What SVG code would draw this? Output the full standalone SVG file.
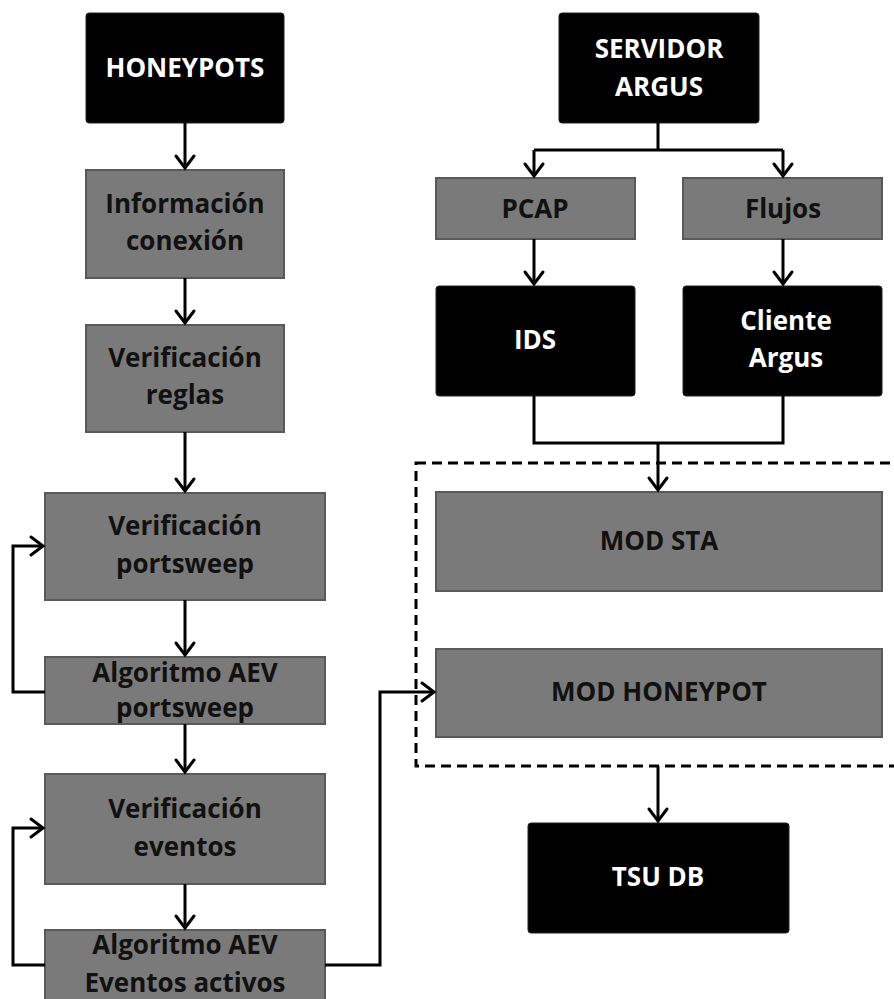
<svg xmlns="http://www.w3.org/2000/svg" width="894" height="999" viewBox="0 0 894 999">
<defs>
<marker id="arr" markerUnits="userSpaceOnUse" viewBox="-16 -12 19 24" markerWidth="19" markerHeight="24" refX="0" refY="0" orient="auto">
<path d="M-12,-9 L0,0 L-12,9" fill="none" stroke="#000" stroke-width="3" stroke-linejoin="miter" stroke-linecap="round"/>
</marker>
</defs>
<style>
.blk{fill:#000;stroke:#222;stroke-width:1}
.gry{fill:#7a7a7a;stroke:#595959;stroke-width:2}
text{font-family:"Open Sans","Noto Sans","Liberation Sans",sans-serif;font-weight:bold;font-size:26px;text-anchor:middle}
.w{fill:#fff}
.d{fill:#111}
.c{fill:none;stroke:#000;stroke-width:3}
.a{marker-end:url(#arr)}
.dash{fill:none;stroke:#000;stroke-width:3;stroke-dasharray:10 6}
</style>
<rect width="894" height="999" fill="#fff"/>

<g id="grupo-modulos">
<rect class="dash" x="416" y="463" width="490" height="303"/>
</g>

<g id="honeypots"><rect class="blk" x="86" y="13" width="198" height="110" rx="3"/><text class="w" x="185" y="77">HONEYPOTS</text></g>
<g id="info-conexion"><rect class="gry" x="86" y="170" width="198" height="108"/><text class="d" x="185" y="213">Información</text><text class="d" x="185" y="250">conexión</text></g>
<g id="verif-reglas"><rect class="gry" x="86" y="325" width="198" height="107"/><text class="d" x="185" y="367">Verificación</text><text class="d" x="185" y="404">reglas</text></g>
<g id="verif-portsweep"><rect class="gry" x="45" y="493" width="280" height="107"/><text class="d" x="185" y="535">Verificación</text><text class="d" x="185" y="573">portsweep</text></g>
<g id="alg-portsweep"><rect class="gry" x="45" y="657" width="280" height="67"/><text class="d" x="185" y="682">Algoritmo AEV</text><text class="d" x="185" y="717">portsweep</text></g>
<g id="verif-eventos"><rect class="gry" x="45" y="774" width="280" height="110"/><text class="d" x="185" y="818">Verificación</text><text class="d" x="185" y="856">eventos</text></g>
<g id="alg-eventos"><rect class="gry" x="45" y="930" width="280" height="75"/><text class="d" x="185" y="954">Algoritmo AEV</text><text class="d" x="185" y="992">Eventos activos</text></g>

<g id="servidor-argus"><rect class="blk" x="559" y="13" width="200" height="110" rx="3"/><text class="w" x="659" y="58">SERVIDOR</text><text class="w" x="659" y="96">ARGUS</text></g>
<g id="pcap"><rect class="gry" x="436" y="178" width="199" height="61"/><text class="d" x="535" y="218">PCAP</text></g>
<g id="flujos"><rect class="gry" x="683" y="178" width="199" height="61"/><text class="d" x="783" y="218">Flujos</text></g>
<g id="ids"><rect class="blk" x="436" y="286" width="199" height="110" rx="3"/><text class="w" x="535" y="349">IDS</text></g>
<g id="cliente-argus"><rect class="blk" x="683" y="286" width="199" height="110" rx="3"/><text class="w" x="786" y="330">Cliente</text><text class="w" x="786" y="367">Argus</text></g>
<g id="mod-sta"><rect class="gry" x="436" y="492" width="446" height="99"/><text class="d" x="659" y="550">MOD STA</text></g>
<g id="mod-honeypot"><rect class="gry" x="436" y="649" width="446" height="88"/><text class="d" x="659" y="701">MOD HONEYPOT</text></g>
<g id="tsu-db"><rect class="blk" x="528" y="823" width="261" height="110" rx="3"/><text class="w" x="658" y="886">TSU DB</text></g>

<g id="conectores">
<path class="c a" d="M185,123 V168"/>
<path class="c a" d="M185,278 V323"/>
<path class="c a" d="M185,432 V491"/>
<path class="c a" d="M185,600 V655"/>
<path class="c a" d="M185,724 V772"/>
<path class="c a" d="M185,884 V928"/>
<path class="c a" d="M45,692 H13 V546 H43"/>
<path class="c a" d="M45,965 H13 V828 H43"/>
<path class="c a" d="M325,965 H380 V692 H434"/>
<path class="c" d="M658,123 V150 M534,150 H783"/>
<path class="c a" d="M534,150 V176"/>
<path class="c a" d="M783,150 V176"/>
<path class="c a" d="M534,239 V284"/>
<path class="c a" d="M783,239 V284"/>
<path class="c" d="M534,396 V443 H783 V396"/>
<path class="c a" d="M658,443 V490"/>
<path class="c a" d="M658,766 V821"/>
</g>
</svg>
